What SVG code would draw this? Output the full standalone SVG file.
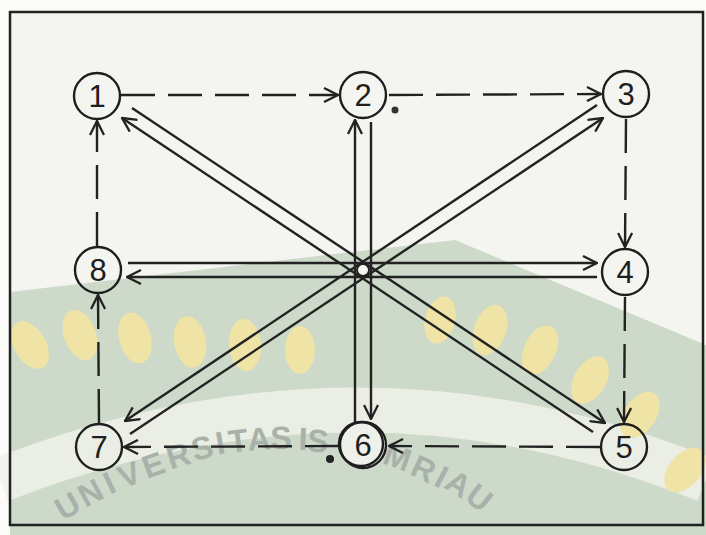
<svg xmlns="http://www.w3.org/2000/svg" width="706" height="535" viewBox="0 0 706 535">
<style>
.ln{fill:none;stroke:#222;stroke-width:2.4;stroke-linecap:butt}
.dash{stroke-dasharray:34 13}
.nd{fill:none;stroke:#1e1e1e;stroke-width:2.4}
.lb{font-family:"Liberation Sans",Arial,sans-serif;font-size:31px;fill:#1e1e1e;text-anchor:middle}
.grain{fill:#efe3a6}
.wm{font-family:"Liberation Sans",Arial,sans-serif;font-size:32px;font-weight:bold;fill:#a9b2aa;text-anchor:middle}
</style>
<defs>
<marker id="ah" viewBox="0 0 16 16" refX="15" refY="8" markerWidth="16" markerHeight="16" markerUnits="userSpaceOnUse" orient="auto">
<path d="M1,1 L15,8 L1,15" fill="none" stroke="#222" stroke-width="2.3" stroke-dasharray="none"/>
</marker>
</defs>
<rect x="0" y="0" width="706" height="535" fill="#fbfbf8"/>
<rect x="10" y="12" width="693" height="513" fill="#f4f5f0"/>
<g id="watermark">
<path d="M10,292 L455,240 L706,345 L706,535 L10,535 Z" fill="#cdd9c9"/>
<path d="M0,480 Q360,340 706,480" fill="none" stroke="#eef1ea" stroke-width="45" opacity="0.85"/>
<g class="grain">
<ellipse cx="30" cy="345" rx="16" ry="26" transform="rotate(-30 30 345)"/>
<ellipse cx="80" cy="335" rx="16" ry="26" transform="rotate(-20 80 335)"/>
<ellipse cx="135" cy="338" rx="16" ry="26" transform="rotate(-15 135 338)"/>
<ellipse cx="190" cy="342" rx="16" ry="26" transform="rotate(-10 190 342)"/>
<ellipse cx="245" cy="345" rx="16" ry="26" transform="rotate(-5 245 345)"/>
<ellipse cx="300" cy="350" rx="15" ry="24"/>
<ellipse cx="440" cy="320" rx="15" ry="24" transform="rotate(15 440 320)"/>
<ellipse cx="490" cy="330" rx="16" ry="26" transform="rotate(20 490 330)"/>
<ellipse cx="540" cy="350" rx="16" ry="26" transform="rotate(25 540 350)"/>
<ellipse cx="590" cy="380" rx="16" ry="26" transform="rotate(30 590 380)"/>
<ellipse cx="640" cy="415" rx="16" ry="26" transform="rotate(35 640 415)"/>
<ellipse cx="685" cy="470" rx="16" ry="26" transform="rotate(40 685 470)"/>
</g>
<g class="wm">
<text transform="translate(67,505) rotate(-30)" y="12">U</text>
<text transform="translate(90,492) rotate(-28)" y="12">N</text>
<text transform="translate(109,482) rotate(-25)" y="12">I</text>
<text transform="translate(129,474) rotate(-22)" y="12">V</text>
<text transform="translate(153,464) rotate(-20)" y="12">E</text>
<text transform="translate(178,455) rotate(-17)" y="12">R</text>
<text transform="translate(202,447) rotate(-14)" y="12">S</text>
<text transform="translate(220,442) rotate(-10)" y="12">I</text>
<text transform="translate(238,440) rotate(-7)" y="12">T</text>
<text transform="translate(259,438) rotate(-4)" y="12">A</text>
<text transform="translate(281,437) rotate(-2)" y="12">S</text>
<text transform="translate(303,438) rotate(2)" y="12">I</text>
<text transform="translate(318,440) rotate(5)" y="12">S</text>
<text transform="translate(398,456) rotate(20)" y="12">M</text>
<text transform="translate(424,468) rotate(25)" y="12">R</text>
<text transform="translate(442,476) rotate(28)" y="12">I</text>
<text transform="translate(459,483) rotate(32)" y="12">A</text>
<text transform="translate(480,497) rotate(38)" y="12">U</text>
</g>
</g>
<rect x="10" y="12" width="693" height="513" fill="none" stroke="#222" stroke-width="2.5"/>
<g id="connectors">
<path class="ln dash" d="M121,95 L338,95" marker-end="url(#ah)"/>
<path class="ln dash" d="M389,95 L601,94" marker-end="url(#ah)"/>
<path class="ln dash" d="M626,119 L625,247" marker-end="url(#ah)"/>
<path class="ln dash" d="M625,297 L624,422" marker-end="url(#ah)"/>
<path class="ln dash" d="M600,447 L389,446" marker-end="url(#ah)"/>
<path class="ln dash" d="M339,446 L124,447" marker-end="url(#ah)"/>
<path class="ln dash" d="M99,423 L98,295" marker-end="url(#ah)"/>
<path class="ln dash" d="M97,246 L97,121" marker-end="url(#ah)"/>
<path class="ln" d="M128,263 L597,263" marker-end="url(#ah)"/>
<path class="ln" d="M597,277 L127,277" marker-end="url(#ah)"/>
<path class="ln" d="M355,422 L355,120" marker-end="url(#ah)"/>
<path class="ln" d="M371,122 L371,419" marker-end="url(#ah)"/>
<path class="ln" d="M132,108 L605,423" marker-end="url(#ah)"/>
<path class="ln" d="M593,432 L122,118" marker-end="url(#ah)"/>
<path class="ln" d="M597,105 L125,421" marker-end="url(#ah)"/>
<path class="ln" d="M130,434 L603,118" marker-end="url(#ah)"/>
<circle cx="363" cy="270" r="6" fill="#f5f5f0" stroke="#222" stroke-width="2"/>
</g>
<g id="n1"><circle class="nd" cx="97" cy="96" r="23"/><text class="lb" x="97" y="107">1</text></g>
<g id="n2"><circle class="nd" cx="363" cy="95" r="23"/><text class="lb" x="363" y="106">2</text></g>
<g id="n3"><circle class="nd" cx="626" cy="94" r="23"/><text class="lb" x="626" y="105">3</text></g>
<g id="n4"><circle class="nd" cx="625" cy="272" r="23"/><text class="lb" x="625" y="283">4</text></g>
<g id="n5"><circle class="nd" cx="624" cy="447" r="23"/><text class="lb" x="624" y="458">5</text></g>
<g id="n6"><circle cx="363" cy="445" r="23" fill="#eef1ea" stroke="#1e1e1e" stroke-width="2.4"/><circle class="nd" cx="361" cy="444" r="22"/><text class="lb" x="363" y="456">6</text></g>
<g id="n7"><circle class="nd" cx="99" cy="447" r="23"/><text class="lb" x="99" y="458">7</text></g>
<g id="n8"><circle class="nd" cx="98" cy="270" r="23"/><text class="lb" x="98" y="281">8</text></g>
<circle cx="395" cy="110" r="3.5" fill="#333"/>
<circle cx="330" cy="459" r="4" fill="#222"/>
</svg>
